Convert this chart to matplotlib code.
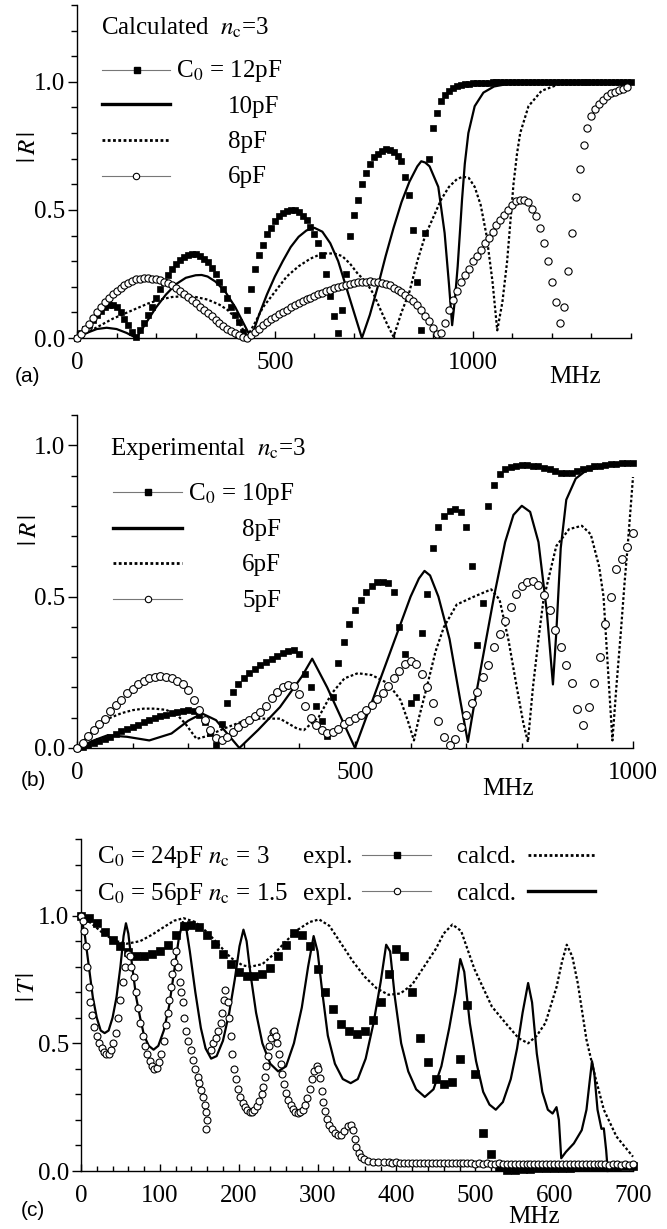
import numpy as np
import matplotlib
matplotlib.use("Agg")
import matplotlib.pyplot as plt
from matplotlib.lines import Line2D
from matplotlib.ticker import MultipleLocator, FormatStrFormatter

plt.rcParams["font.family"] = ["Liberation Serif", "DejaVu Serif"]
plt.rcParams["mathtext.fontset"] = "stix"

# ---------------- (a) calculated, n_c = 3 ----------------
a_x12 = np.arange(0, 1401, 10)
a_y12 = [0.0, 0.02, 0.035, 0.05, 0.07, 0.09, 0.105, 0.12, 0.13, 0.13, 0.12, 0.10, 0.075, 0.05, 0.025, 0.005,
         0.03, 0.06, 0.09, 0.12, 0.155, 0.19, 0.22, 0.245, 0.27, 0.29, 0.305, 0.318, 0.325, 0.328, 0.327, 0.32,
         0.31, 0.295, 0.275, 0.25, 0.22, 0.19, 0.155, 0.12, 0.09, 0.063, 0.025, 0.11,
         0.19, 0.27, 0.325, 0.365, 0.405, 0.43, 0.455, 0.475, 0.488, 0.497, 0.50, 0.498, 0.49, 0.478, 0.46,
         0.435, 0.405, 0.37, 0.325, 0.25, 0.165, 0.085, 0.02, 0.11,
         0.25, 0.40, 0.48, 0.54, 0.60, 0.645, 0.68, 0.705, 0.72, 0.73, 0.736, 0.735, 0.725, 0.71, 0.69, 0.63,
         0.56, 0.42, 0.22, 0.03, 0.41, 0.70, 0.82, 0.88, 0.925, 0.95, 0.965, 0.975, 0.982, 0.987, 0.99, 0.992, 0.994,
         0.995, 0.996, 0.997, 0.997, 0.998, 0.998, 0.998, 0.999, 0.999, 0.999,
         1.0, 1.0, 1.0, 1.0, 1.0, 1.0, 1.0, 1.0, 1.0, 1.0, 1.0, 1.0, 1.0, 1.0, 1.0,
         1.0, 1.0, 1.0, 1.0, 1.0, 1.0, 1.0, 1.0, 1.0, 1.0, 1.0, 1.0, 1.0, 1.0, 1.0]

a_x6 = np.arange(0, 1391, 10)
a_y6 = [0.0, 0.017, 0.035, 0.055, 0.08, 0.10, 0.12, 0.14, 0.155, 0.17, 0.185, 0.197, 0.207, 0.216, 0.224,
        0.229, 0.232, 0.233, 0.233, 0.232, 0.229, 0.225, 0.22, 0.213, 0.205, 0.196, 0.185, 0.173, 0.16, 0.147,
        0.135, 0.122, 0.11, 0.098, 0.085, 0.072, 0.06, 0.048, 0.037, 0.027, 0.018, 0.01, 0.004, 0.0,
        0.01, 0.025, 0.037, 0.05, 0.062, 0.073, 0.083, 0.093, 0.102, 0.111, 0.12, 0.128, 0.136, 0.144, 0.151,
        0.158, 0.165, 0.171, 0.177, 0.183, 0.189, 0.194, 0.199, 0.203, 0.207, 0.211, 0.214, 0.217, 0.219, 0.22,
        0.221, 0.22, 0.218, 0.214, 0.21, 0.205, 0.197, 0.188, 0.178, 0.168, 0.157, 0.145, 0.128, 0.108, 0.087,
        0.065, 0.04, 0.015,
        0.02, 0.06, 0.108, 0.15, 0.185, 0.22, 0.245, 0.27, 0.30, 0.32, 0.345, 0.37, 0.39, 0.415, 0.44, 0.46,
        0.48, 0.50, 0.52, 0.535, 0.54, 0.54, 0.53, 0.505, 0.475, 0.43, 0.37, 0.30, 0.22, 0.14, 0.06, 0.12,
        0.26, 0.41, 0.55, 0.66, 0.755, 0.82, 0.865, 0.895, 0.915, 0.93, 0.945, 0.955, 0.962, 0.968, 0.973, 0.978]

a_x10 = [0, 25, 50, 75, 100, 125, 150, 175, 200, 225, 250, 275, 300, 315, 330, 350, 375, 400, 420, 440,
         460, 480, 500, 520, 540, 560, 580, 600, 620, 640, 660, 680, 700, 720, 740, 760, 780, 800, 820, 840,
         860, 870, 880, 891, 913, 929, 940, 948, 955, 962, 968, 973, 980, 989, 1005, 1027, 1054, 1100, 1150,
         1200, 1400]
a_y10 = [0, 0.02, 0.035, 0.04, 0.035, 0.02, 0.0, 0.06, 0.12, 0.17, 0.21, 0.235, 0.245, 0.246, 0.24, 0.22,
         0.18, 0.12, 0.06, 0.0, 0.09, 0.17, 0.24, 0.30, 0.355, 0.395, 0.42, 0.43, 0.415, 0.37, 0.30, 0.20, 0.10,
         0.0, 0.09, 0.20, 0.32, 0.43, 0.53, 0.61, 0.67, 0.69, 0.685, 0.67, 0.59, 0.41, 0.21, 0.05, 0.15, 0.28,
         0.42, 0.54, 0.68, 0.80, 0.905, 0.958, 0.982, 0.995, 0.999, 1.0, 1.0]

a_x8 = [0, 30, 60, 90, 120, 150, 180, 210, 240, 270, 300, 330, 360, 380, 400, 415, 430, 450, 470, 500, 530,
        560, 590, 620, 650, 670, 690, 710, 730, 750, 770, 785, 800, 820, 840, 860, 880, 900, 920, 940, 960,
        975, 990, 1005, 1020, 1035, 1050, 1062, 1075, 1087, 1095, 1103, 1112, 1120, 1141, 1174, 1217, 1260, 1400]
a_y8 = [0, 0.025, 0.05, 0.075, 0.095, 0.115, 0.135, 0.15, 0.16, 0.163, 0.16, 0.15, 0.13, 0.11, 0.08, 0.045,
        0.005, 0.06, 0.12, 0.18, 0.24, 0.28, 0.31, 0.33, 0.33, 0.32, 0.29, 0.25, 0.22, 0.17, 0.10, 0.05, 0.005,
        0.10, 0.18, 0.3, 0.4, 0.47, 0.54, 0.59, 0.62, 0.63, 0.625, 0.59, 0.52, 0.40, 0.22, 0.03, 0.14, 0.30,
        0.45, 0.6, 0.72, 0.80, 0.905, 0.965, 0.99, 0.998, 1.0]

# ---------------- (b) experimental, n_c = 3 ----------------
b_x10 = np.arange(0, 1001, 10)
b_y10 = [0.0, 0.003, 0.01, 0.015, 0.022, 0.03, 0.037, 0.045, 0.055, 0.062, 0.07, 0.077, 0.085, 0.092, 0.098,
         0.105, 0.11, 0.115, 0.12, 0.123, 0.125, 0.122, 0.11, 0.085, 0.05, 0.01,
         0.08, 0.15, 0.185, 0.21, 0.23, 0.247, 0.262, 0.275, 0.285, 0.295, 0.305, 0.315, 0.322, 0.325, 0.31,
         0.245, 0.2, 0.14, 0.09, 0.04,
         0.17, 0.28, 0.35, 0.41, 0.455, 0.49, 0.515, 0.535, 0.548, 0.55, 0.545, 0.515, 0.40, 0.31, 0.15, 0.17,
         0.38, 0.51, 0.66, 0.73, 0.765, 0.782, 0.79, 0.78, 0.73, 0.60, 0.34, 0.48, 0.80, 0.87, 0.905, 0.92,
         0.928, 0.932, 0.935, 0.935, 0.933, 0.93, 0.925, 0.92, 0.915, 0.91, 0.908, 0.91, 0.915, 0.92, 0.925,
         0.93, 0.933, 0.935, 0.937, 0.938, 0.94, 0.94, 0.94]

b_x5 = np.arange(0, 1001, 10)
b_y5 = [0.0, 0.015, 0.038, 0.058, 0.078, 0.097, 0.122, 0.142, 0.16, 0.182,
        0.195, 0.21, 0.222, 0.23, 0.236, 0.237, 0.235, 0.23, 0.222, 0.21,
        0.19, 0.16, 0.125, 0.092, 0.058, 0.033, 0.025, 0.037, 0.052, 0.068,
        0.083, 0.093, 0.105, 0.12, 0.138, 0.165, 0.185, 0.2, 0.207, 0.205,
        0.178, 0.14, 0.1, 0.075, 0.058, 0.048, 0.052, 0.064, 0.078, 0.088,
        0.098, 0.11, 0.125, 0.142, 0.162, 0.183, 0.205, 0.23, 0.255, 0.277,
        0.286, 0.277, 0.245, 0.2, 0.147, 0.09, 0.035, 0.01, 0.03, 0.07,
        0.11, 0.147, 0.185, 0.235, 0.275, 0.335, 0.375, 0.42, 0.465, 0.51,
        0.535, 0.55, 0.551, 0.538, 0.505, 0.457, 0.39, 0.335, 0.275, 0.215,
        0.13, 0.075, 0.135, 0.215, 0.3, 0.41, 0.5, 0.59, 0.625, 0.665, 0.71]

b_x8 = [0, 30, 55, 90, 130, 170, 200, 225, 250, 270, 292, 326, 365, 404, 423, 450, 480, 500, 520, 540, 560,
        580, 600, 615, 625, 635, 650, 670, 690, 703, 715, 730, 750, 770, 785, 800, 815, 830, 845, 856, 862,
        870, 880, 897, 916, 950, 1000]
b_y8 = [0, 0.025, 0.042, 0.037, 0.025, 0.048, 0.09, 0.114, 0.092, 0.048, 0.0, 0.06, 0.135, 0.235, 0.295,
        0.2, 0.08, 0.0, 0.1, 0.2, 0.3, 0.4, 0.5, 0.56, 0.585, 0.57, 0.50, 0.36, 0.15, 0.02, 0.15, 0.3, 0.5,
        0.68, 0.77, 0.80, 0.78, 0.68, 0.45, 0.21, 0.38, 0.66, 0.82, 0.89, 0.917, 0.93, 0.94]

b_x6 = [0, 20, 40, 60, 80, 100, 120, 140, 160, 180, 195, 215, 235, 264, 295, 326, 365, 396, 408, 435, 458,
        481, 505, 530, 559, 582, 595, 606, 615, 629, 645, 660, 683, 714, 745, 760, 776, 792, 803, 811, 820,
        830, 839, 862, 885, 908, 924, 939, 947, 951, 957, 963, 970, 978, 985, 990, 1000]
b_y6 = [0, 0.04, 0.075, 0.1, 0.115, 0.125, 0.13, 0.13, 0.126, 0.11, 0.08, 0.03, 0.04, 0.064, 0.086, 0.097,
        0.097, 0.064, 0.059, 0.103, 0.18, 0.23, 0.247, 0.241, 0.214, 0.158, 0.09, 0.025, 0.1, 0.2, 0.32,
        0.40, 0.474, 0.50, 0.524, 0.49, 0.357, 0.19, 0.08, 0.02, 0.2, 0.36, 0.49, 0.667, 0.723, 0.734, 0.706,
        0.60, 0.5, 0.38, 0.2, 0.025, 0.2, 0.38, 0.55, 0.657, 0.895]

# ---------------- (c) transmission ----------------
c_x24 = np.arange(0, 701, 10)
c_y24 = [1.0, 0.99, 0.97, 0.935, 0.906, 0.88, 0.857, 0.842, 0.843, 0.85,
         0.862, 0.886, 0.925, 0.96, 0.965, 0.957, 0.925, 0.89, 0.848, 0.81,
         0.78, 0.764, 0.762, 0.773, 0.795, 0.84, 0.885, 0.93, 0.925, 0.88,
         0.79, 0.70, 0.635, 0.575, 0.55, 0.536, 0.55, 0.59, 0.66, 0.77,
         0.87, 0.84, 0.70, 0.52, 0.425, 0.36, 0.34, 0.35, 0.44, 0.65,
         0.38, 0.15, 0.065, 0.015, 0.005, 0.005, 0.006, 0.008, 0.01, 0.012,
         0.01, 0.012, 0.012, 0.014, 0.015, 0.015, 0.016, 0.015, 0.017, 0.018, 0.018]

c_xc24 = [0, 15, 30, 45, 58, 75, 90, 105, 118, 130, 145, 160, 175, 190, 205, 215, 230, 245, 260, 275, 290,
          302, 315, 330, 345, 360, 375, 390, 405, 420, 435, 450, 460, 471, 482, 499, 521, 542, 555, 567, 578,
          589, 596, 603, 610, 616, 623, 630, 641, 652, 663, 679, 700]
c_yc24 = [1.0, 0.965, 0.925, 0.9, 0.89, 0.9, 0.925, 0.955, 0.98, 0.99, 0.975, 0.935, 0.885, 0.835, 0.805,
          0.80, 0.81, 0.85, 0.9, 0.945, 0.975, 0.985, 0.96, 0.89, 0.82, 0.76, 0.715, 0.69, 0.695, 0.73, 0.80,
          0.87, 0.93, 0.965, 0.94, 0.79, 0.644, 0.566, 0.52, 0.50, 0.53, 0.58, 0.65, 0.72, 0.82, 0.886, 0.84,
          0.735, 0.514, 0.37, 0.24, 0.135, 0.056]

c_xc56 = [0, 5, 10, 15, 20, 25, 30, 35, 40, 45, 50, 54, 57, 60, 65, 70, 75, 80, 86, 92, 98, 105, 112, 118,
          124, 129, 133, 138, 145, 152, 158, 165, 172, 180, 188, 195, 201, 206, 210, 215, 222, 230, 240, 250,
          260, 270, 280, 288, 295, 300, 306, 313, 322, 332, 342, 351, 361, 371, 380, 387, 392, 398, 406, 415,
          425, 436, 447, 457, 467, 475, 481, 486, 493, 501, 510, 518, 526, 535, 545, 553, 560, 567, 572, 578,
          585, 592, 598, 603, 606, 609, 615, 625, 635, 641, 645, 648, 651, 655, 660, 663, 666, 668]
c_yc56 = [1.0, 0.92, 0.8, 0.68, 0.6, 0.55, 0.54, 0.55, 0.6, 0.68, 0.8, 0.92, 0.97, 0.93, 0.8, 0.68, 0.6,
          0.53, 0.49, 0.475, 0.49, 0.55, 0.65, 0.78, 0.91, 0.975, 0.96, 0.86, 0.7, 0.56, 0.48, 0.44, 0.45,
          0.51, 0.62, 0.75, 0.88, 0.945, 0.9, 0.77, 0.62, 0.5, 0.42, 0.39, 0.41, 0.5, 0.64, 0.8, 0.92, 0.86,
          0.7, 0.53, 0.42, 0.36, 0.344, 0.36, 0.44, 0.58, 0.74, 0.886, 0.86, 0.68, 0.5, 0.39, 0.32, 0.29,
          0.32, 0.41, 0.56, 0.7, 0.83, 0.78, 0.58, 0.43, 0.31, 0.26, 0.24, 0.27, 0.36, 0.48, 0.62, 0.736,
          0.66, 0.46, 0.31, 0.24, 0.225, 0.25, 0.2, 0.05, 0.075, 0.108, 0.16, 0.24, 0.35, 0.43, 0.38, 0.24,
          0.165, 0.167, 0.08, 0.0]

c_x56 = [0, 2, 4, 6, 8, 10, 12, 14, 17, 20, 23, 26, 29, 32, 35, 38, 41, 44, 47, 50, 53, 56, 59, 62, 64, 67,
         70, 72, 75, 78, 81, 84, 87, 90, 93, 96, 99, 102, 105, 108, 110, 112, 114, 116, 118, 120, 123, 125,
         127, 129, 131, 133, 136, 139, 142, 145, 148, 150, 152, 155, 157, 159, 160, 158, 165, 168, 171, 174,
         177, 179, 181, 183, 186, 188, 190, 192, 194, 196, 199, 202, 205, 208, 211, 214, 217, 220, 223, 226,
         229, 231, 233, 235, 237, 239, 241, 243, 245, 247, 249, 251, 253, 255, 257, 260, 263, 266, 269, 272,
         275, 278, 281, 284, 287, 290, 293, 296, 299, 301, 303, 305, 307, 309, 312, 315, 318, 322, 326, 330,
         334, 338, 342, 345, 347, 349, 352, 355, 359, 364, 370, 377, 384]
c_y56 = [1.0, 0.98, 0.94, 0.88, 0.80, 0.72, 0.66, 0.61, 0.565, 0.53, 0.50, 0.48, 0.465, 0.457, 0.46, 0.475,
         0.50, 0.54, 0.60, 0.67, 0.74, 0.80, 0.85, 0.84, 0.80, 0.76, 0.70, 0.64, 0.58, 0.53, 0.49, 0.46, 0.43,
         0.41, 0.40, 0.405, 0.425, 0.46, 0.51, 0.57, 0.62, 0.67, 0.72, 0.77, 0.82, 0.86, 0.80, 0.74, 0.70,
         0.66, 0.60, 0.55, 0.51, 0.475, 0.435, 0.40, 0.37, 0.345, 0.318, 0.29, 0.26, 0.23, 0.20, 0.165, 0.475,
         0.50, 0.52, 0.55, 0.58, 0.62, 0.67, 0.71, 0.66, 0.60, 0.53, 0.46, 0.40, 0.36, 0.32, 0.29, 0.265,
         0.25, 0.238, 0.232, 0.232, 0.24, 0.255, 0.275, 0.30, 0.33, 0.37, 0.41, 0.45, 0.49, 0.52, 0.545,
         0.55, 0.53, 0.50, 0.46, 0.42, 0.38, 0.34, 0.305, 0.278, 0.257, 0.242, 0.232, 0.227, 0.23, 0.24,
         0.258, 0.285, 0.32, 0.36, 0.39, 0.41, 0.40, 0.365, 0.315, 0.27, 0.235, 0.205, 0.18, 0.163, 0.15,
         0.14, 0.142, 0.158, 0.176, 0.18, 0.16, 0.125, 0.095, 0.07, 0.055, 0.046, 0.04, 0.037, 0.035, 0.034]
# flat tail of the 56pF measurement
c_x56_tail = np.arange(390, 701, 5)
c_y56_tail = [0.034, 0.033, 0.034, 0.033, 0.033, 0.032, 0.033, 0.032, 0.032, 0.031,
              0.032, 0.031, 0.031, 0.032, 0.031, 0.030, 0.031, 0.030, 0.030, 0.031,
              0.030, 0.030, 0.029, 0.030, 0.029, 0.030, 0.029, 0.029, 0.030, 0.029,
              0.028, 0.029, 0.029, 0.028, 0.029, 0.028, 0.028, 0.027, 0.028, 0.028,
              0.027, 0.028, 0.027, 0.027, 0.028, 0.027, 0.026, 0.027, 0.027, 0.026,
              0.027, 0.026, 0.026, 0.027, 0.026, 0.026, 0.025, 0.026, 0.026, 0.025,
              0.026, 0.025, 0.026]

# ---------------- figure ----------------
W, H = 667, 1229
fig = plt.figure(figsize=(W / 100, H / 100), dpi=100)


def fx(px):
    return px / W


def fy(py):
    return 1 - py / H


def make_axes(left, right, top, bottom):
    return fig.add_axes([fx(left), fy(bottom), (right - left) / W, (bottom - top) / H])


def style(ax, xmax, xmajor, xminor, ymax):
    ax.set_xlim(0, xmax)
    ax.set_ylim(0, ymax)
    ax.spines["top"].set_visible(False)
    ax.spines["right"].set_visible(False)
    for s in ("left", "bottom"):
        ax.spines[s].set_linewidth(1.0)
    ax.xaxis.set_major_locator(MultipleLocator(xmajor))
    ax.xaxis.set_minor_locator(MultipleLocator(xminor))
    ax.yaxis.set_major_locator(MultipleLocator(0.5))
    ax.yaxis.set_minor_locator(MultipleLocator(0.1))
    ax.yaxis.set_major_formatter(FormatStrFormatter("%.1f"))
    ax.tick_params(axis="y", which="major", direction="out", length=6.5, width=1, pad=2, labelsize=18)
    ax.tick_params(axis="y", which="minor", direction="out", length=4.5, width=1)
    ax.tick_params(axis="x", which="major", direction="in", length=5, width=1, pad=10, labelsize=18)
    ax.tick_params(axis="x", which="minor", direction="in", length=3.5, width=1)


sq = dict(ls="none", marker="s", mfc="black", mec="black", mew=0.5, clip_on=False, zorder=3)
ci = dict(ls="none", marker="o", mfc="white", mec="black", mew=0.8, clip_on=False, zorder=4)
solid = dict(color="black", lw=1.6, clip_on=False, zorder=2)
dotted = dict(color="black", lw=1.6, ls=(0, (1.2, 1.0)), clip_on=False, zorder=2)

ax_a = make_axes(77, 631, 5, 338)
style(ax_a, 1400, 500, 100, 1.3)
ax_a.plot(a_x10, a_y10, **solid)
ax_a.plot(a_x8, a_y8, **dotted)
ax_a.plot(a_x12, a_y12, ms=4.7, **sq)
ax_a.plot(a_x6, a_y6, ms=5.2, **ci)

ax_b = make_axes(77, 633, 415, 748)
style(ax_b, 1000, 500, 100, 1.1)
ax_b.plot(b_x8, b_y8, **solid)
ax_b.plot(b_x6, b_y6, **dotted)
ax_b.plot(b_x10, b_y10, ms=4.6, **sq)
ax_b.plot(b_x5, b_y5, ms=5.6, **ci)

ax_c = make_axes(81, 633, 839, 1171)
style(ax_c, 700, 100, 20, 1.3)
ax_c.plot(c_xc24, c_yc24, **dotted)
ax_c.plot(c_xc56, c_yc56, **solid)
ax_c.plot(c_x24, c_y24, ms=5.4, **sq)
ax_c.plot(c_x56, c_y56, ms=5.0, **ci)
ax_c.plot(c_x56_tail, c_y56_tail, ms=5.0, **ci)


# ---------------- legends and labels ----------------
def text(x, y, s, **kw):
    fig.text(fx(x), fy(y), s, fontsize=18, ha="left", va="baseline", **kw)


def key(x1, x2, y, kind, xm=None):
    if kind in ("sq", "ci"):
        fig.add_artist(Line2D([fx(x1), fx(x2)], [fy(y), fy(y)], transform=fig.transFigure,
                              color="#777777", lw=0.8))
        if kind == "sq":
            fig.add_artist(Line2D([fx(xm)], [fy(y)], transform=fig.transFigure, marker="s", ms=4.6,
                                  mfc="black", mec="black", ls="none"))
        else:
            fig.add_artist(Line2D([fx(xm)], [fy(y)], transform=fig.transFigure, marker="o", ms=4.6,
                                  mfc="white", mec="black", mew=0.8, ls="none"))
    elif kind == "solid":
        fig.add_artist(Line2D([fx(x1), fx(x2)], [fy(y), fy(y)], transform=fig.transFigure,
                              color="black", lw=2.4))
    else:
        fig.add_artist(Line2D([fx(x1), fx(x2)], [fy(y), fy(y)], transform=fig.transFigure,
                              color="black", lw=2.0, ls=(0, (1.0, 0.9))))


# (a)
text(101, 35, r"Calculated  $n_{\rm c}$=3")
key(102, 170, 70, "sq", 137)
key(102, 170, 104, "solid")
key(102, 170, 140, "dot")
key(102, 170, 176, "ci", 136)
text(176, 77, r"C$_0$ = 12pF")
text(228, 113, "10pF")
text(228, 148, "8pF")
text(228, 183, "6pF")

# (b)
text(110, 455, r"Experimental  $n_{\rm c}$=3")
key(113, 182, 492, "sq", 148)
key(113, 182, 528, "solid")
key(113, 182, 563, "dot")
key(113, 182, 599, "ci", 148)
text(188, 500, r"C$_0$ = 10pF")
text(242, 536, "8pF")
text(242, 571, "6pF")
text(242, 607, "5pF")

# (c)
text(97, 863, r"C$_0$ = 24pF $n_{\rm c}$ = 3")
text(303, 863, "expl.")
key(362, 431, 855, "sq", 397)
text(457, 863, "calcd.")
key(528, 595, 855, "dot")
text(97, 900, r"C$_0$ = 56pF $n_{\rm c}$ = 1.5")
text(303, 900, "expl.")
key(362, 431, 891, "ci", 397)
text(457, 900, "calcd.")
key(528, 595, 891, "solid")

for (x, y, s) in [(29, 147, r"$|\,R\,|$"), (30, 530, r"$|\,R\,|$"), (28, 987, r"$|\,T\,|$")]:
    fig.text(fx(x), fy(y), s, fontsize=18, rotation=90, ha="center", va="center")

for (x, y) in [(575, 377), (508, 789), (534, 1217)]:
    fig.text(fx(x), fy(y), "MHz", fontsize=18, ha="center", va="center")

for (x, y, s) in [(28, 376, "(a)"), (33, 780, "(b)"), (33, 1210, "(c)")]:
    fig.text(fx(x), fy(y), s, fontsize=15, family="Liberation Sans", ha="center", va="center")

fig.savefig("out.png", dpi=100)
